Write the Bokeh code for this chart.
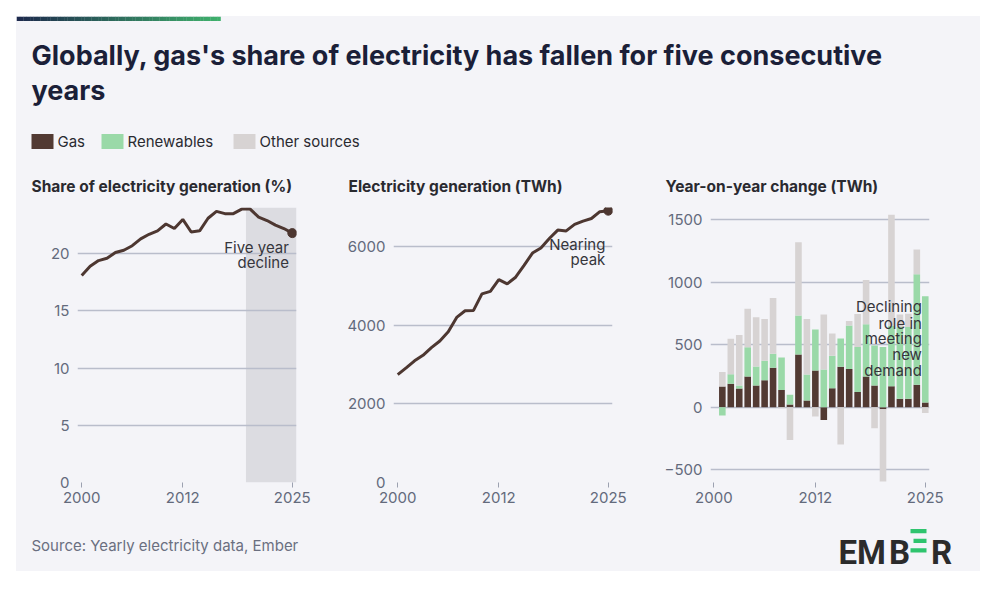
from bokeh.plotting import figure
from bokeh.layouts import column, row
from bokeh.models import Range1d, FixedTicker, BoxAnnotation, Spacer
from bokeh.core.properties import value
from bokeh.embed import file_html
from bokeh.resources import INLINE

# ---- data -------------------------------------------------------------
years = list(range(2000, 2026))
gas_share = [18.1, 18.9, 19.4, 19.6, 20.1, 20.3, 20.7, 21.3, 21.7, 22.0,
             22.6, 22.2, 23.0, 21.9, 22.0, 23.1, 23.7, 23.5, 23.5, 23.9,
             23.9, 23.2, 22.9, 22.5, 22.2, 21.8]
gas_generation = [2750, 2920, 3100, 3240, 3435, 3605, 3840, 4205, 4375, 4385,
                  4805, 4870, 5170, 5060, 5230, 5530, 5845, 5975, 6215, 6430,
                  6410, 6575, 6660, 6725, 6900, 6925]

change_years = list(range(2001, 2026))
change_gas = [166, 188, 150, 247, 174, 217, 316, 139, 21, 423,
              54, 295, -102, 153, 325, 306, 121, 247, 174, -16,
              168, 67, 67, 180, 38]
change_renewables = [-67, 77, 24, 233, 153, 156, 113, 260, 78, 311,
                     209, 327, 303, 260, 225, 348, 361, 418, 320, 482,
                     482, 575, 576, 885, 852]
change_other = [117, 284, 405, 308, 394, 334, 447, -8, -263, 587,
                444, -75, 439, 177, -298, 36, 265, 355, -168, -579,
                891, 100, 105, 198, -46]

x_ticks = [2000, 2012, 2025]
share_ticks = [0, 5, 10, 15, 20]
generation_ticks = [0, 2000, 4000, 6000]
change_ticks = [-500, 0, 500, 1000, 1500]

legend_labels = ["Gas", "Renewables", "Other sources"]
DECLINE_START = 2019.5

# ---- style ------------------------------------------------------------
CARD = "#f4f4f8"
GAS = "#523a33"
RENEW = "#9ad9a8"
OTHER = "#d7d3d3"
LINE = "#4d3731"
GRID = "#b9bdcb"
TICK_TEXT = "#636a7c"
DARK = "#2a2a30"
TITLE = "#1b1f38"
FONT = "Inter"


def blank(width, height, xr, yr):
    p = figure(width=width, height=height, x_range=Range1d(*xr), y_range=Range1d(*yr),
               output_backend="svg", toolbar_location=None, min_border=0,
               background_fill_color=CARD, border_fill_color=CARD,
               outline_line_color=None)
    p.axis.visible = False
    p.grid.visible = False
    return p


def mix(c1, c2, t):
    a = [int(c1[i:i + 2], 16) for i in (1, 3, 5)]
    b = [int(c2[i:i + 2], 16) for i in (1, 3, 5)]
    return "#%02x%02x%02x" % tuple(round(a[k] + (b[k] - a[k]) * t) for k in range(3))


# ---- header: accent bar, title, legend, panel titles -------------------
header = blank(964, 188, (16, 980), (204, 16))

n_seg = 60
seg_w = (220 - 16) / n_seg
header.quad(left=[16 + i * seg_w for i in range(n_seg)],
            right=[16 + (i + 1) * seg_w + 0.3 for i in range(n_seg)],
            top=[16] * n_seg, bottom=[20.5] * n_seg,
            color=[mix("#1d2a4d", "#3fb06c", i / (n_seg - 1)) for i in range(n_seg)],
            line_color=None)

header.text(x=[31, 31], y=[55, 90],
            text=["Globally, gas's share of electricity has fallen for five consecutive", "years"],
            text_font=value(FONT), text_font_size="27px", text_font_style="bold",
            text_color=TITLE, text_baseline="alphabetic", text_align="left")

swatch_left = [31, 101, 233]
header.quad(left=swatch_left, right=[x + 22 for x in swatch_left],
            top=[133.5] * 3, bottom=[148.5] * 3,
            color=[GAS, RENEW, OTHER], line_color=None)
header.text(x=[x + 26 for x in swatch_left], y=[141] * 3, text=legend_labels,
            text_font=value(FONT), text_font_size="15px", text_color=DARK,
            text_baseline="middle", text_align="left")

header.text(x=[31, 348, 665], y=[186] * 3,
            text=["Share of electricity generation (%)", "Electricity generation (TWh)",
                  "Year-on-year change (TWh)"],
            text_font=value(FONT), text_font_size="15.5px", text_font_style="bold",
            text_color=DARK, text_baseline="alphabetic", text_align="left")


# ---- panels -----------------------------------------------------------
def panel(width, left, right, xr, yr, yticks):
    p = figure(width=width, height=308, x_range=Range1d(*xr), y_range=Range1d(*yr),
               output_backend="svg", toolbar_location=None,
               min_border_left=left, min_border_right=right,
               min_border_top=3, min_border_bottom=30,
               background_fill_color=CARD, border_fill_color=CARD,
               outline_line_color=None)
    p.xgrid.visible = False
    p.ygrid.ticker = FixedTicker(ticks=yticks)
    p.ygrid.grid_line_color = GRID
    p.ygrid.grid_line_width = 1.5
    for ax in (p.xaxis[0], p.yaxis[0]):
        ax.axis_line_color = None
        ax.minor_tick_line_color = None
        ax.major_label_text_font = FONT
        ax.major_label_text_font_size = "15px"
        ax.major_label_text_color = TICK_TEXT
    p.xaxis.ticker = FixedTicker(ticks=x_ticks)
    p.xaxis.major_tick_in = 0
    p.xaxis.major_tick_out = 5
    p.xaxis.major_tick_line_color = "#9ca1b0"
    p.xaxis.major_label_standoff = 4
    p.yaxis.ticker = FixedTicker(ticks=yticks)
    p.yaxis.major_tick_in = 0
    p.yaxis.major_tick_out = 0
    p.yaxis.major_tick_line_color = None
    p.yaxis.major_label_standoff = 8
    return p


def note(p, x, ys, lines):
    p.text(x=[x] * len(lines), y=ys, text=lines, text_font=value(FONT),
           text_font_size="15px", text_color="#36363c",
           text_align="right", text_baseline="middle")


# share of generation
p1 = panel(314, 61, 34, (1999.5, 2025.5), (0, 24.04), share_ticks)
p1.add_layout(BoxAnnotation(left=DECLINE_START, bottom=0, fill_color="#dcdce1",
                            fill_alpha=1, line_color=None, level="image"))
p1.line(years, gas_share, line_color=LINE, line_width=3)
p1.scatter([years[-1]], [gas_share[-1]], size=9, color=LINE)
note(p1, 2024.6, [20.55, 19.2], ["Five year", "decline"])

# gas generation
p2 = panel(317, 63, 35, (1999.5, 2025.5), (0, 7006), generation_ticks)
p2.line(years, gas_generation, line_color=LINE, line_width=3)
p2.scatter([years[-1]], [gas_generation[-1]], size=9, color=LINE)
note(p2, 2024.65, [6075, 5675], ["Nearing", "peak"])

# year-on-year change, stacked with positives up and negatives down
p3 = panel(333, 63, 51, (1999.6, 2025.5), (-603, 1600), change_ticks)
pos = [0.0] * len(change_years)
neg = [0.0] * len(change_years)
for series, colour in ((change_gas, GAS), (change_renewables, RENEW), (change_other, OTHER)):
    bottoms, tops = [], []
    for i, v in enumerate(series):
        if v >= 0:
            bottoms.append(pos[i]); tops.append(pos[i] + v); pos[i] += v
        else:
            tops.append(neg[i]); bottoms.append(neg[i] + v); neg[i] += v
    p3.vbar(x=change_years, bottom=bottoms, top=tops, width=0.78,
            fill_color=colour, line_color=None)
note(p3, 2024.6, [806, 673, 548, 420, 294],
     ["Declining", "role in", "meeting", "new", "demand"])

# ---- footer: source and logo ------------------------------------------
footer = blank(964, 59, (16, 980), (571, 512))
footer.text(x=[31], y=[545], text=["Source: Yearly electricity data, Ember"],
            text_font=value(FONT), text_font_size="15px", text_color="#6a6f80",
            text_baseline="middle", text_align="left")
footer.text(x=[838, 856.5, 888.5, 930.5], y=[552, 552, 552, 552], text=["E", "M", "B", "R"],
            text_font=value("Roboto"), text_font_size="33px", text_font_style="bold",
            text_color="#2b2b2b", text_baseline="alphabetic", text_align="left")
footer.quad(left=[910, 913, 910], right=[926, 926, 926],
            top=[528.5, 538.2, 547.7], bottom=[532.7, 542.4, 551.9],
            color="#2fc46e", line_color=None)

card = column(header, row(p1, p2, p3, spacing=0), footer, spacing=0,
              styles={"background-color": CARD})

layout = column(
    Spacer(width=997, height=16),
    row(Spacer(width=16, height=555), card, Spacer(width=17, height=555), spacing=0),
    Spacer(width=997, height=18),
    spacing=0,
)

open("out.html", "w").write(file_html(layout, INLINE))
